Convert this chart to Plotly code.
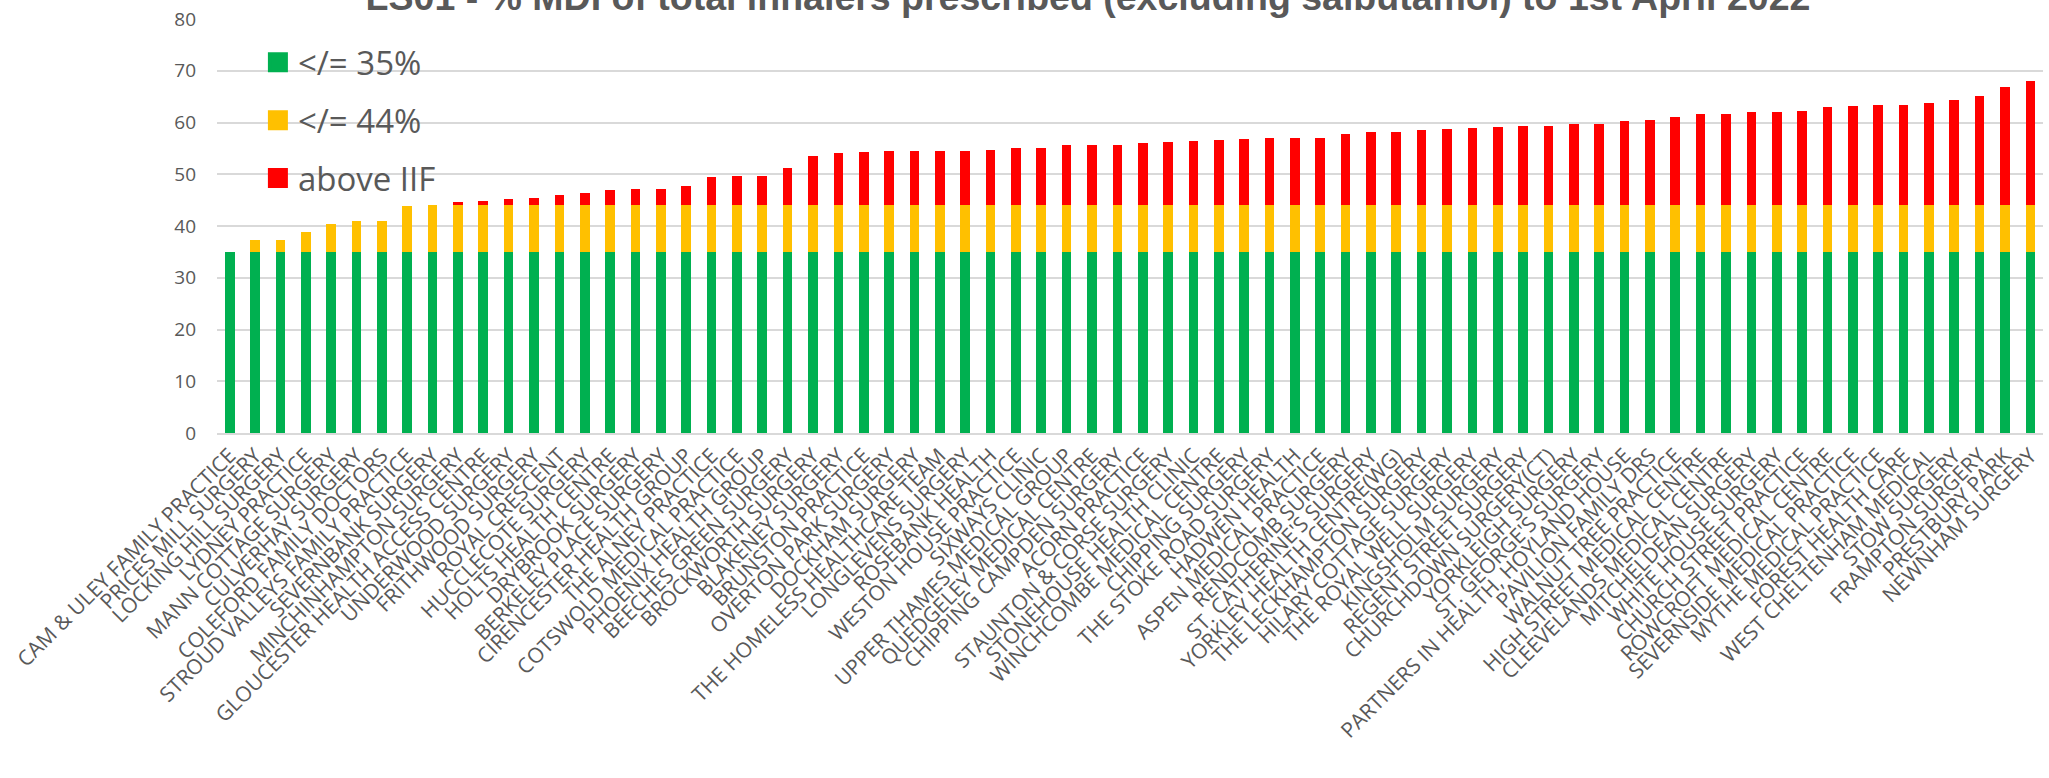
import plotly.graph_objects as go

practices = [
    "CAM & ULEY FAMILY PRACTICE", "PRICES MILL SURGERY", "LOCKING HILL SURGERY", "LYDNEY PRACTICE",
    "MANN COTTAGE SURGERY", "CULVERHAY SURGERY", "COLEFORD FAMILY DOCTORS", "STROUD VALLEYS FAMILY PRACTICE",
    "SEVERNBANK SURGERY", "MINCHINHAMPTON SURGERY", "GLOUCESTER HEALTH ACCESS CENTRE", "UNDERWOOD SURGERY",
    "FRITHWOOD SURGERY", "ROYAL CRESCENT", "HUCCLECOTE SURGERY", "HOLTS HEALTH CENTRE",
    "DRYBROOK SURGERY", "BERKELEY PLACE SURGERY", "CIRENCESTER HEALTH GROUP", "THE ALNEY PRACTICE",
    "COTSWOLD MEDICAL PRACTICE", "PHOENIX HEALTH GROUP", "BEECHES GREEN SURGERY", "BROCKWORTH SURGERY",
    "BLAKENEY SURGERY", "BRUNSTON PRACTICE", "OVERTON PARK SURGERY", "DOCKHAM SURGERY",
    "THE HOMELESS HEALTHCARE TEAM", "LONGLEVENS SURGERY", "ROSEBANK HEALTH", "WESTON HOUSE PRACTICE",
    "SIXWAYS CLINIC", "UPPER THAMES MEDICAL GROUP", "QUEDGELEY MEDICAL CENTRE", "CHIPPING CAMPDEN SURGERY",
    "ACORN PRACTICE", "STAUNTON & CORSE SURGERY", "STONEHOUSE HEALTH CLINIC", "WINCHCOMBE MEDICAL CENTRE",
    "CHIPPING SURGERY", "THE STOKE ROAD SURGERY", "HADWEN HEALTH", "ASPEN MEDICAL PRACTICE",
    "RENDCOMB SURGERY", "ST. CATHERINE'S SURGERY", "YORKLEY HEALTH CENTRE(WG)", "THE LECKHAMPTON SURGERY",
    "HILARY COTTAGE SURGERY", "THE ROYAL WELL SURGERY", "KINGSHOLM SURGERY", "REGENT STREET SURGERY",
    "CHURCHDOWN SURGERY(CT)", "YORKLEIGH SURGERY", "ST. GEORGE'S SURGERY", "PARTNERS IN HEALTH, HOYLAND HOUSE",
    "PAVILION FAMILY DRS", "WALNUT TREE PRACTICE", "HIGH STREET MEDICAL CENTRE", "CLEEVELANDS MEDICAL CENTRE",
    "MITCHELDEAN SURGERY", "WHITE HOUSE SURGERY", "CHURCH STREET PRACTICE", "ROWCROFT MEDICAL CENTRE",
    "SEVERNSIDE MEDICAL PRACTICE", "MYTHE MEDICAL PRACTICE", "FOREST HEALTH CARE", "WEST CHELTENHAM MEDICAL",
    "STOW SURGERY", "FRAMPTON SURGERY", "PRESTBURY PARK", "NEWNHAM SURGERY",
]

# % MDI of total inhalers
mdi_pct = [
    34.9, 37.2, 37.2, 38.8, 40.3, 40.9, 41.0, 43.9, 44.0, 44.7,
    44.8, 45.3, 45.4, 45.9, 46.4, 47.0, 47.1, 47.1, 47.7, 49.5,
    49.6, 49.6, 51.3, 53.6, 54.2, 54.3, 54.4, 54.5, 54.5, 54.5,
    54.6, 55.0, 55.1, 55.6, 55.6, 55.7, 56.0, 56.3, 56.4, 56.6,
    56.8, 57.0, 57.0, 57.0, 57.7, 58.1, 58.1, 58.5, 58.7, 59.0,
    59.2, 59.4, 59.4, 59.8, 59.8, 60.2, 60.5, 61.1, 61.6, 61.6,
    62.0, 62.1, 62.3, 62.9, 63.1, 63.3, 63.3, 63.8, 64.4, 65.2,
    66.8, 68.1,
]

band_low = 35
band_mid = 44
series_names = ["</= 35%", "</= 44%", "above IIF"]
series_colors = ["#00B050", "#FFC000", "#FF0000"]
y_ticks = [0, 10, 20, 30, 40, 50, 60, 70, 80]

green_part = [min(v, band_low) for v in mdi_pct]
yellow_part = [min(max(v - band_low, 0), band_mid - band_low) for v in mdi_pct]
red_part = [max(v - band_mid, 0) for v in mdi_pct]
parts = [green_part, yellow_part, red_part]

title_text = "LS01 - % MDI of total inhalers prescribed (excluding salbutamol) to 1st April 2022"

W, H = 2049, 778

fig = go.Figure()
for name, color, vals in zip(series_names, series_colors, parts):
    fig.add_trace(go.Bar(
        x=practices, y=vals, name=name, marker_color=color,
        marker_line_width=0, showlegend=False, legendgroup=name,
    ))
# legend entries (square markers)
for name, color in zip(series_names, series_colors):
    fig.add_trace(go.Scatter(
        x=[None], y=[None], mode="markers", name=name, legendgroup=name,
        marker=dict(symbol="square", size=16, color=color, line=dict(color=color, width=4)),
    ))

fig.update_layout(
    width=W, height=H, autosize=False,
    margin=dict(l=217, r=6, t=17, b=345, pad=0),
    paper_bgcolor="white", plot_bgcolor="white",
    barmode="stack", bargap=0.62,
    font=dict(family="Open Sans", color="#595959"),
    title=dict(
        text="<b>" + title_text + "</b>", xref="container", yref="container",
        x=1088 / W, y=1 - 10 / H, xanchor="center", yanchor="bottom",
        font=dict(family="Liberation Sans", size=37.5, color="#595959"),
    ),
    legend=dict(
        x=0.0224, y=0.963, xanchor="left", yanchor="top",
        font=dict(size=33, color="#595959", family="Open Sans"),
        bgcolor="rgba(0,0,0,0)", tracegroupgap=12, traceorder="grouped",
        itemsizing="trace",
    ),
)
fig.update_xaxes(
    type="category", tickmode="array", tickvals=practices, ticktext=practices,
    tickangle=-45, tickfont=dict(size=21, color="#595959"),
    showline=True, linecolor="#D9D9D9", linewidth=2, showgrid=False,
    ticks="", range=[-0.5, len(practices) - 0.5],
)
fig.update_yaxes(
    range=[0, 80], tickvals=y_ticks, showgrid=True, gridcolor="#D9D9D9", gridwidth=2,
    tickfont=dict(size=19, color="#595959"), showline=False, zeroline=False,
    ticklabelstandoff=20,
)

fig.write_html(
    "out.html",
    config={"displayModeBar": False},
    post_script="document.body.style.margin='0px'; document.body.style.overflow='hidden';",
)
